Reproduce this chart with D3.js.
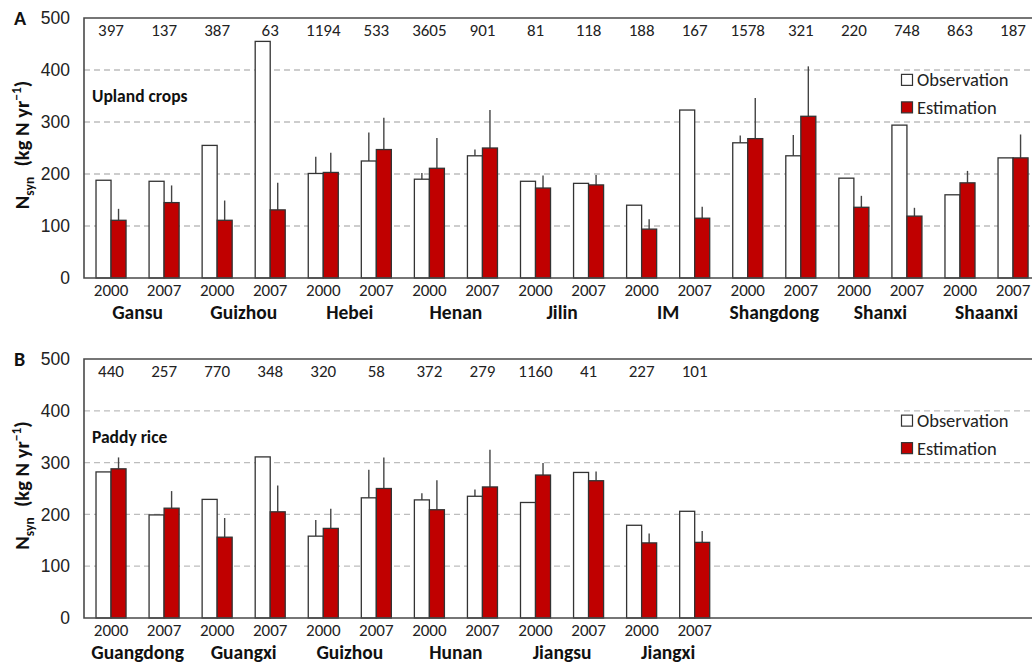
<!DOCTYPE html>
<html>
<head>
<meta charset="utf-8">
<script src="https://cdn.jsdelivr.net/npm/d3@7"></script>
<style>
  html, body { margin: 0; padding: 0; background: #fff; }
  svg { display: block; font-family: Carlito, Calibri, Lato, "Open Sans", sans-serif; }
</style>
</head>
<body>
<svg id="chart" width="1032" height="666"></svg>
<script>
// ---- Panel A: upland crops ----
const provincesA = ["Gansu", "Guizhou", "Hebei", "Henan", "Jilin", "IM", "Shangdong", "Shanxi", "Shaanxi"];
const yearsA = ["2000", "2007", "2000", "2007", "2000", "2007", "2000", "2007", "2000", "2007", "2000", "2007", "2000", "2007", "2000", "2007", "2000", "2007"];
const countsA = [397, 137, 387, 63, 1194, 533, 3605, 901, 81, 118, 188, 167, 1578, 321, 220, 748, 863, 187];
const obsA = [188, 186, 255, 455, 201, 225, 190, 235, 186, 182, 140, 323, 260, 235, 192, 294, 160, 231];
const obsTopA = [null, null, null, null, 233, 280, 202, 247, null, null, null, null, 274, 275, null, null, null, null];
const estA = [111, 145, 111, 131, 203, 247, 211, 250, 173, 179, 94, 115, 268, 311, 136, 119, 183, 231];
const estTopA = [133, 178, 149, 183, 241, 308, 269, 323, 197, 198, 113, 137, 346, 407, 158, 135, 206, 276];

// ---- Panel B: paddy rice ----
const provincesB = ["Guangdong", "Guangxi", "Guizhou", "Hunan", "Jiangsu", "Jiangxi"];
const yearsB = ["2000", "2007", "2000", "2007", "2000", "2007", "2000", "2007", "2000", "2007", "2000", "2007"];
const countsB = [440, 257, 770, 348, 320, 58, 372, 279, 1160, 41, 227, 101];
const obsB = [282, 199, 229, 311, 158, 232, 228, 235, 223, 281, 179, 206];
const obsTopB = [null, null, null, null, 189, 286, 241, 248, null, null, null, null];
const estB = [288, 212, 156, 205, 173, 250, 209, 253, 276, 265, 145, 146];
const estTopB = [310, 245, 193, 256, 211, 310, 266, 325, 299, 283, 163, 168];

const yTicks = [0, 100, 200, 300, 400, 500];
const seriesNames = ["Observation", "Estimation"];
const seriesFill = ["#ffffff", "#c00000"];
const SLOTS = 18;

const svg = d3.select("#chart");

function drawPanel(cfg) {
  const left = 84, right = 1032;
  const top = cfg.top, bottom = cfg.bottom;
  const g = svg.append("g");

  const y = d3.scaleLinear().domain([0, 500]).range([bottom, top]);
  const x = d3.scaleBand().domain(d3.range(SLOTS))
    .range([84.5, 84.5 + SLOTS * 53.06])
    .paddingInner(0.434).paddingOuter(0.217);
  const xs = d3.scaleBand().domain([0, 1]).range([0, x.bandwidth()]);

  // dashed gridlines
  g.append("g").selectAll("line").data(yTicks.filter(t => t > 0 && t < 500)).join("line")
    .attr("x1", left).attr("x2", right)
    .attr("y1", d => y(d)).attr("y2", d => y(d))
    .attr("stroke", "#bdbdbd").attr("stroke-width", 1.3)
    .attr("stroke-dasharray", "6,4");

  // y axis labels
  const yAxis = d3.axisLeft(y).tickValues(yTicks).tickSize(0).tickPadding(14);
  const ya = g.append("g").attr("transform", `translate(${left},0)`).call(yAxis);
  ya.select(".domain").remove();
  ya.selectAll("text").attr("font-size", 17.5).attr("fill", "#222").attr("font-family", null);

  // bars
  const n = cfg.obs.length;
  const rows = d3.range(n).map(i => ({
    i, vals: [cfg.obs[i], cfg.est[i]], tops: [cfg.obsTop[i], cfg.estTop[i]]
  }));
  const groups = g.append("g").selectAll("g").data(rows).join("g")
    .attr("transform", d => `translate(${x(d.i)},0)`);

  // error whiskers (drawn behind bars)
  groups.selectAll("line.err").data(d => d.tops.map((t, k) => ({ t, v: d.vals[k], k })).filter(e => e.t != null))
    .join("line").attr("class", "err")
    .attr("x1", e => xs(e.k) + xs.bandwidth() / 2).attr("x2", e => xs(e.k) + xs.bandwidth() / 2)
    .attr("y1", e => y(e.v)).attr("y2", e => y(e.t))
    .attr("stroke", "#444").attr("stroke-width", 1.4);

  groups.selectAll("rect").data(d => d.vals.map((v, k) => ({ v, k }))).join("rect")
    .attr("x", e => xs(e.k)).attr("width", xs.bandwidth())
    .attr("y", e => y(e.v)).attr("height", e => y(0) - y(e.v))
    .attr("fill", e => seriesFill[e.k])
    .attr("stroke", "#333").attr("stroke-width", 1.3);

  // frame: left, top, bottom
  g.append("path")
    .attr("d", `M${right},${top}H${left}V${bottom}H${right}`)
    .attr("fill", "none").attr("stroke", "#4a4a4a").attr("stroke-width", 1.6);

  // sample counts along the top
  g.append("g").selectAll("text").data(cfg.counts).join("text")
    .attr("x", (d, i) => x(i) + x.bandwidth() / 2).attr("y", top + 18)
    .attr("text-anchor", "middle").attr("font-size", 17).attr("fill", "#222")
    .text(d => d);

  // year labels under each pair
  g.append("g").selectAll("text").data(cfg.years).join("text")
    .attr("x", (d, i) => x(i) + x.bandwidth() / 2).attr("y", bottom + 18)
    .attr("text-anchor", "middle").attr("font-size", 17).attr("fill", "#222")
    .text(d => d);

  // province labels
  g.append("g").selectAll("text").data(cfg.provinces).join("text")
    .attr("x", (d, i) => (x(2 * i) + x(2 * i + 1) + x.bandwidth()) / 2).attr("y", bottom + 41)
    .attr("text-anchor", "middle").attr("font-size", 19.5).attr("font-weight", "bold").attr("fill", "#111")
    .text(d => d);

  // panel letter
  g.append("text").attr("x", 14).attr("y", top + 7)
    .attr("font-size", 20).attr("font-weight", "bold").attr("fill", "#111").text(cfg.letter);

  // crop type label
  g.append("text").attr("x", 92).attr("y", y(350) + 6)
    .attr("font-size", 17.5).attr("font-weight", "bold").attr("fill", "#111").text(cfg.crop);

  // y-axis title
  const mid = (top + bottom) / 2 - 3;
  const t = g.append("text")
    .attr("transform", `translate(29,${mid}) rotate(-90)`)
    .attr("text-anchor", "middle").attr("font-size", 20.5).attr("font-weight", "bold").attr("fill", "#111");
  t.append("tspan").text("N");
  t.append("tspan").attr("font-size", 13.5).attr("dy", 5).text("syn");
  t.append("tspan").attr("dy", -5).text("\u2002(kg N yr");
  t.append("tspan").attr("font-size", 13.5).attr("dy", -8).text("\u22121");
  t.append("tspan").attr("dy", 8).text(")");

  // legend
  const lg = g.append("g").attr("transform", `translate(901,${y(381)})`);
  seriesNames.forEach((name, k) => {
    const row = lg.append("g").attr("transform", `translate(0,${k * 27.5})`);
    row.append("rect").attr("x", 0.5).attr("y", -5.5).attr("width", 11).attr("height", 11)
      .attr("fill", seriesFill[k]).attr("stroke", "#333").attr("stroke-width", 1.2);
    row.append("text").attr("x", 16).attr("y", 6.5).attr("font-size", 18.5).attr("fill", "#222").text(name);
  });
}

drawPanel({
  top: 18, bottom: 278, letter: "A", crop: "Upland crops",
  provinces: provincesA, years: yearsA, counts: countsA,
  obs: obsA, obsTop: obsTopA, est: estA, estTop: estTopA
});
drawPanel({
  top: 359, bottom: 618, letter: "B", crop: "Paddy rice",
  provinces: provincesB, years: yearsB, counts: countsB,
  obs: obsB, obsTop: obsTopB, est: estB, estTop: estTopB
});
</script>
</body>
</html>
